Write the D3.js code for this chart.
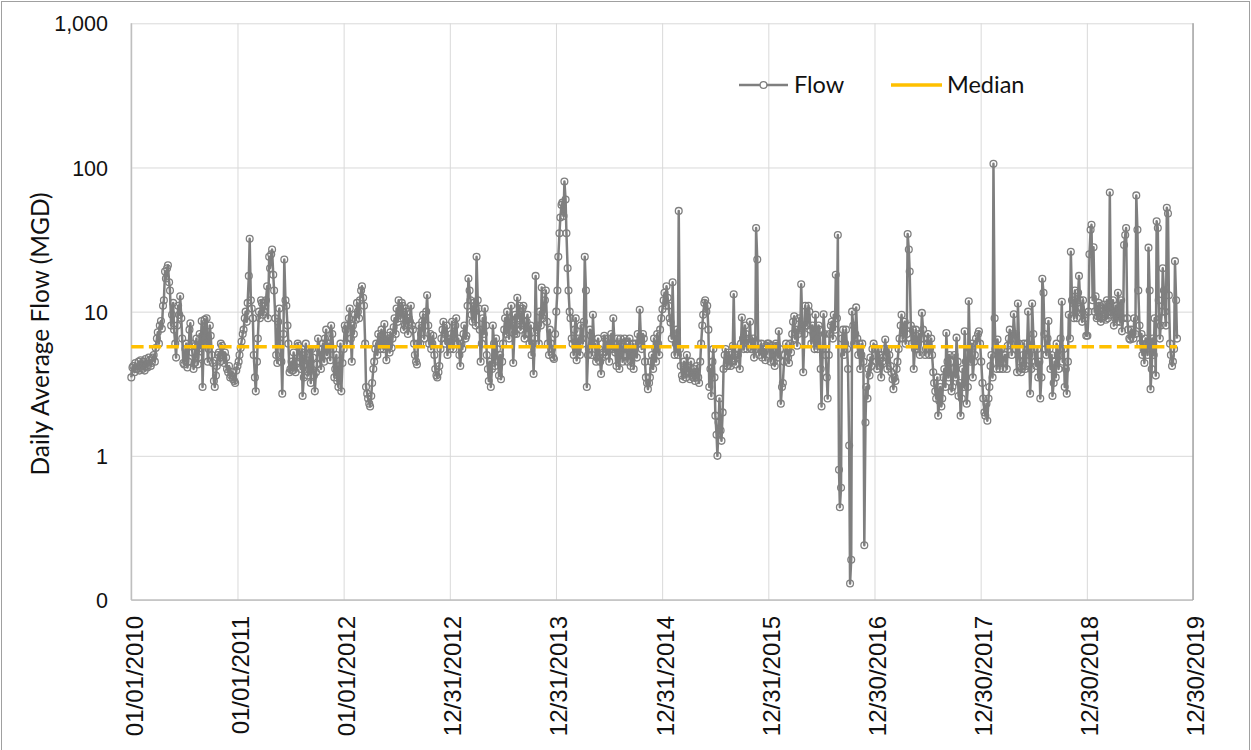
<!DOCTYPE html>
<html>
<head>
<meta charset="utf-8">
<script src="https://cdn.jsdelivr.net/npm/d3@7"></script>
<style>
  body { margin: 0; background: #fff; }
  svg { display: block; font-family: Lato, "Liberation Sans", sans-serif; }
</style>
</head>
<body>
<div id="chart"></div>
<script>
const SVG_WIDTH = 1251;
const SVG_HEIGHT = 750;
const PLOT = { left: 131.3, right: 1193, top: 23.3, bottom: 600 };

const Y_AXIS_LABEL = "Daily Average Flow (MGD)";
const Y_TICKS = [0.1, 1, 10, 100, 1000];
const X_TICK_LABELS = ["01/01/2010", "01/01/2011", "01/01/2012", "12/31/2012", "12/31/2013",
  "12/31/2014", "12/31/2015", "12/30/2016", "12/30/2017", "12/30/2018", "12/30/2019"];
const MEDIAN = 5.7;
const STEP_DAYS = 3.5; // two readings a week, each year starting 1 Jan

// flow readings (MGD)
const flow2010 = [3.5,4.1, 4.2,3.8, 4.4,4.0, 4.0,4.5, 3.9,4.6, 4.3,4.0, 4.5,3.9, 4.7,4.2, 4.1,4.8, 4.6,4.2,
  4.4,4.8, 5.0,4.5, 5.6,6.5, 7.2,6.0, 8.0,8.6, 7.6,11.0, 12.0,19.0, 17.0,20.0, 21.0,16.0, 14.0,8.0,
  9.5,11.5, 7.5,6.0, 4.8,8.0, 11.0,9.5, 12.8,9.0, 6.5,4.4, 4.3,5.5, 6.0,4.1, 4.5,7.5, 8.3,6.0,
  5.2,4.0, 4.4,5.8, 6.5,4.3, 4.8,7.0, 5.6,8.6, 3.0,6.5, 8.8,6.0, 9.0,4.5, 5.5,8.0, 6.8,5.0,
  4.4,3.3, 3.0,3.6, 4.2,5.0, 5.2,4.5, 6.0,5.8, 5.0,4.4, 5.2,4.8, 4.0,3.8, 4.2,3.5, 3.6,3.8,
  3.4,3.3, 3.2,3.9];
const flow2011 = [4.2,4.5, 5.0,5.6, 6.2,7.0, 7.5,9.0, 10.0,8.5, 11.5,17.7, 32.0,12.0, 10.5,9.0, 5.0,3.5, 2.8,4.5,
  6.5,10.0, 9.0,12.0, 11.5,9.5, 10.0,11.0, 12.0,15.0, 9.0,24.0, 20.0,25.0, 27.0,18.0, 14.0,9.0, 5.0,4.4,
  8.5,10.5, 6.0,4.5, 2.7,7.0, 23.0,12.0, 11.0,8.0, 6.0,3.8, 4.0,4.5, 3.9,5.2, 4.2,3.8, 4.5,6.0,
  5.8,4.8, 4.0,5.5, 2.6,3.5, 5.2,6.0, 4.6,3.6, 4.0,5.5, 3.2,5.5, 4.8,3.6, 2.8,3.8, 4.3,6.5,
  5.5,4.8, 4.0,5.5, 6.0,4.5, 6.5,7.5, 5.0,6.0, 6.0,4.6, 8.0,7.0, 5.5,3.5, 4.0,5.0, 3.3,3.0,
  4.2,6.0, 2.8,4.4];
const flow2012 = [5.5,8.0, 7.5,6.0, 8.0,9.0, 10.5,6.5, 4.5,8.0, 7.0,9.5, 8.8,11.5, 10.0,9.0, 12.0,14.0, 15.0,12.5,
  11.0,6.0, 3.0,2.7, 2.5,2.3, 2.2,2.6, 3.2,4.0, 4.5,5.5, 6.0,5.0, 7.0,6.0, 5.5,7.5, 6.8,5.5,
  8.2,5.8, 4.6,6.8, 6.0,5.2, 7.2,5.6, 6.5,7.8, 9.0,7.0, 10.5,8.5, 12.0,10.0, 9.0,11.5, 11.0,7.5,
  8.0,10.5, 10.0,7.0, 9.0,8.5, 11.0,8.0, 7.5,6.0, 5.0,4.5, 4.3,6.0, 8.0,6.0, 7.0,8.5, 9.5,6.5,
  8.0,10.0, 13.0,8.0, 6.0,7.0, 5.5,6.0, 6.8,5.0, 4.0,3.6, 3.5,3.8, 4.2,5.5, 6.5,7.5, 8.5,7.0,
  6.0,8.0, 5.0,6.5];
const flow2013 = [5.5,7.0, 8.5,5.5, 6.0,8.0, 9.0,6.0, 6.5,5.0, 4.2,6.0, 5.5,7.0, 8.0,6.5, 6.8,11.0, 17.0,14.0,
  12.0,9.5, 8.5,11.5, 10.0,8.0, 24.0,12.0, 10.5,7.5, 4.5,6.0, 9.0,7.0, 10.5,8.0, 5.0,4.0, 3.3,4.5,
  3.0,4.0, 8.0,6.0, 4.2,6.5, 5.5,4.5, 3.6,5.0, 3.4,4.5, 6.0,7.5, 9.0,7.0, 10.0,8.0, 6.5,9.0,
  11.0,8.0, 4.4,7.0, 9.5,7.0, 12.5,9.0, 11.0,7.5, 8.0,10.5, 11.0,6.5, 7.0,8.5, 9.5,7.0, 6.0,8.0,
  5.0,6.0, 3.7,6.5, 17.7,7.5, 8.0,6.0, 10.0,8.0, 14.7,9.0, 9.5,12.0, 14.0,8.5, 6.0,5.0, 7.5,6.0,
  5.5,4.8, 4.7,7.0];
const flow2014 = [10.0,14.0, 24.0,35.0, 45.0,55.0, 57.0,46.0, 80.0,60.0, 35.0,20.0, 14.0,10.0, 9.0,6.5, 6.0,5.0, 7.5,9.0,
  4.6,5.5, 6.5,5.0, 8.0,6.5, 6.0,8.5, 24.0,14.0, 3.0,5.0, 5.5,7.5, 6.8,5.0, 9.5,6.0, 6.0,4.5,
  4.8,6.5, 5.5,4.5, 3.7,4.8, 5.2,6.8, 6.5,5.0, 5.5,6.5, 4.5,5.5, 7.0,5.5, 9.0,6.0, 5.2,4.2,
  6.5,5.5, 4.0,6.5, 6.0,4.5, 5.0,6.5, 6.2,5.0, 4.5,5.5, 6.5,4.2, 5.0,6.0, 4.0,5.5, 6.0,4.8,
  7.0,6.0, 10.3,6.5, 5.5,7.0, 6.5,4.5, 3.5,3.2, 2.9,3.2, 3.5,4.5, 5.0,4.0, 6.5,5.5, 4.5,7.0,
  6.0,5.0, 7.5,9.0];
const flow2015 = [10.4,12.0, 13.5,11.0, 15.0,12.5, 11.0,9.0, 8.4,6.5, 16.0,7.0, 5.0,6.0, 7.5,5.0, 50.0,5.5, 4.2,3.6,
  3.4,4.5, 4.0,3.5, 5.0,4.2, 3.8,3.4, 4.5,3.6, 3.5,4.0, 3.3,3.8, 4.2,3.5, 3.2,4.5, 6.0,8.0,
  9.5,11.5, 12.0,10.0, 11.0,7.5, 3.0,4.0, 2.6,4.5, 5.5,3.5, 1.9,1.4, 1.0,1.7, 2.5,1.5, 1.27,2.0,
  4.0,5.0, 5.5,4.2, 4.2,5.2, 5.0,4.2, 4.5,5.8, 13.2,5.0, 4.3,4.8, 5.0,5.5, 4.0,6.0, 9.1,6.5,
  5.5,8.0, 7.0,5.5, 6.0,6.5, 8.5,5.5, 5.5,6.5, 4.8,5.5, 38.0,23.0, 6.0,5.0, 5.5,6.0, 4.8,5.5,
  5.2,4.6, 5.8,6.0];
const flow2016 = [6.0,5.0, 4.5,5.8, 5.5,4.5, 4.2,6.0, 5.8,4.8, 7.3,5.5, 2.3,3.0, 3.2,4.5, 5.0,6.0, 5.5,4.8,
  4.4,6.0, 5.2,7.0, 8.5,9.3, 6.5,7.5, 5.8,7.0, 9.0,7.5, 15.5,8.0, 3.8,7.0, 11.0,8.0, 8.0,11.0,
  10.0,7.5, 6.0,8.0, 7.0,5.5, 9.5,6.5, 5.5,8.0, 7.5,4.0, 2.2,5.5, 9.6,7.0, 5.0,3.5, 2.5,5.0,
  7.0,8.0, 8.5,6.5, 9.5,7.5, 18.0,9.0, 34.0,0.8, 0.44,0.6, 6.5,7.5, 5.0,6.0, 7.5,5.5, 4.0,1.18,
  0.13,0.19, 10.0,8.0, 6.0,7.0, 10.7,6.5, 5.0,6.0, 4.0,5.0, 6.0,4.5, 0.24,1.7, 3.0,2.5, 4.0,3.6,
  4.8,4.2, 5.5,6.0];
const flow2017 = [5.6,4.5, 4.0,5.5, 5.0,4.2, 3.5,4.5, 4.8,5.5, 6.4,5.0, 4.0,5.5, 5.0,4.2, 3.8,3.4, 2.9,3.5,
  3.3,4.0, 4.5,5.5, 6.5,8.0, 9.5,6.5, 7.5,8.5, 6.0,7.0, 34.5,27.0, 19.0,8.0, 6.0,7.5, 4.0,5.5,
  7.5,5.5, 6.0,7.0, 5.0,6.5, 9.8,7.5, 6.5,5.0, 5.5,6.0, 7.0,5.0, 5.5,6.5, 5.0,3.8, 3.2,2.8,
  2.5,3.5, 1.9,2.4, 3.0,2.2, 2.5,3.5, 4.0,3.0, 7.1,4.5, 3.5,5.0, 4.5,2.8, 3.0,4.0, 5.0,3.5,
  6.6,4.5, 2.6,3.2, 1.9,2.5, 4.0,3.0, 7.3,4.5, 2.3,3.0, 11.8,5.5, 4.5,6.0, 3.5,4.5, 5.0,6.5,
  6.0,7.0, 7.3,6.0];
const flow2018 = [4.5,3.2, 2.5,2.0, 1.9,2.3, 1.75,2.5, 3.0,4.2, 5.0,3.5, 106.0,9.0, 5.5,4.0, 6.4,4.8, 4.0,5.5,
  5.5,4.0, 4.5,5.0, 5.0,4.0, 5.8,6.5, 7.5,6.0, 5.0,7.0, 9.6,7.0, 5.5,3.8, 11.4,6.0, 4.5,3.8,
  4.0,5.0, 6.0,4.0, 4.2,6.0, 10.0,5.0, 2.7,4.0, 11.4,7.0, 5.5,4.5, 4.2,5.5, 3.5,4.5, 2.5,3.5,
  16.9,13.5, 7.0,5.5, 5.0,6.5, 8.6,5.5, 4.0,5.0, 2.6,3.2, 4.5,3.5, 6.0,5.0, 4.0,5.5, 6.5,11.7,
  4.5,5.5, 3.0,4.0, 2.7,4.5, 9.5,6.5, 26.0,12.0, 11.5,9.0, 14.0,10.0, 9.0,13.5, 17.7,12.0, 10.5,8.5,
  12.0,9.5, 9.0,6.8];
const flow2019 = [6.8,10.0, 25.0,37.0, 40.0,12.0, 28.0,10.0, 12.8,9.0, 9.3,11.5, 11.0,8.5, 9.0,10.5, 11.2,9.5, 8.8,12.0,
  9.0,11.0, 67.0,9.5, 10.0,12.0, 8.0,9.0, 11.0,8.5, 13.5,10.0, 8.5,12.0, 7.3,9.0, 29.0,34.0, 38.0,9.0,
  7.5,6.5, 6.4,7.5, 7.0,6.5, 9.0,7.0, 64.0,37.0, 14.0,8.0, 6.0,7.0, 5.0,5.5, 4.4,6.5, 6.0,5.0,
  27.8,14.0, 2.9,4.0, 6.5,5.0, 9.0,3.6, 42.4,38.0, 12.0,6.5, 8.0,10.0, 20.0,14.0, 10.0,8.0, 52.6,48.0,
  13.0,6.0, 5.0,4.2, 4.5,5.5, 22.4,12.0, 6.5];

const YEARS = [2010, 2011, 2012, 2013, 2014, 2015, 2016, 2017, 2018, 2019];
const FLOW_BY_YEAR = [flow2010, flow2011, flow2012, flow2013, flow2014, flow2015, flow2016, flow2017, flow2018, flow2019];

const parseDate = d3.timeParse("%m/%d/%Y");
const flowData = [];
YEARS.forEach((year, k) => {
    FLOW_BY_YEAR[k].forEach((v, i) => {
        flowData.push({ date: d3.timeDay.offset(new Date(year, 0, 1), Math.round(STEP_DAYS * i)), value: v });
    });
});

const xTicks = X_TICK_LABELS.map(parseDate);

const svg = d3.select("#chart")
    .append("svg")
    .attr("width", SVG_WIDTH)
    .attr("height", SVG_HEIGHT);

svg.append("rect")
    .attr("x", 1.5).attr("y", 1.5)
    .attr("width", SVG_WIDTH - 3).attr("height", SVG_HEIGHT + 10)
    .attr("fill", "#fff")
    .attr("stroke", "#a0a0a0");

const xScale = d3.scaleTime()
    .domain([xTicks[0], xTicks[xTicks.length - 1]])
    .range([PLOT.left, PLOT.right]);

const yScale = d3.scaleLog()
    .domain([Y_TICKS[0], Y_TICKS[Y_TICKS.length - 1]])
    .range([PLOT.bottom, PLOT.top]);

// gridlines + y labels
const yAxis = d3.axisLeft(yScale)
    .tickValues(Y_TICKS)
    .tickSize(-(PLOT.right - PLOT.left))
    .tickFormat(d3.format(",.0f"));

svg.append("g")
    .attr("class", "y-axis")
    .attr("transform", `translate(${PLOT.left},0)`)
    .call(yAxis)
    .call(g => g.select(".domain").remove())
    .call(g => g.selectAll("line").attr("stroke", "#d9d9d9").attr("stroke-width", 1))
    .call(g => g.selectAll("text")
        .attr("x", -(PLOT.left - 108))
        .attr("dy", "0.35em")
        .attr("fill", "#111")
        .style("font-size", "21.5px"));

const xAxis = d3.axisBottom(xScale)
    .tickValues(xTicks)
    .tickSize(-(PLOT.bottom - PLOT.top))
    .tickFormat(d3.timeFormat("%m/%d/%Y"));

svg.append("g")
    .attr("class", "x-axis")
    .attr("transform", `translate(0,${PLOT.bottom})`)
    .call(xAxis)
    .call(g => g.select(".domain").remove())
    .call(g => g.selectAll("line").attr("stroke", "#d9d9d9").attr("stroke-width", 1))
    .call(g => g.selectAll("text")
        .attr("transform", "rotate(-90)")
        .attr("text-anchor", "end")
        .attr("x", -16)
        .attr("y", 2.5)
        .attr("dy", "0.35em")
        .attr("fill", "#111")
        .style("font-size", "24px"));

// axis lines
svg.append("line")
    .attr("x1", PLOT.left).attr("x2", PLOT.left)
    .attr("y1", PLOT.top).attr("y2", PLOT.bottom)
    .attr("stroke", "#bfbfbf").attr("stroke-width", 1.5);
svg.append("line")
    .attr("x1", PLOT.left).attr("x2", PLOT.right)
    .attr("y1", PLOT.bottom).attr("y2", PLOT.bottom)
    .attr("stroke", "#bfbfbf").attr("stroke-width", 1.5);
svg.append("line")
    .attr("x1", PLOT.right).attr("x2", PLOT.right)
    .attr("y1", PLOT.top).attr("y2", PLOT.bottom)
    .attr("stroke", "#a6a6a6").attr("stroke-width", 1.5);

svg.append("text")
    .attr("transform", "translate(40,334) rotate(-90)")
    .attr("text-anchor", "middle")
    .attr("dy", "0.35em")
    .attr("fill", "#111")
    .style("font-size", "24.5px")
    .text(Y_AXIS_LABEL);

// flow series
const line = d3.line()
    .x(d => xScale(d.date))
    .y(d => yScale(d.value));

svg.append("path")
    .datum(flowData)
    .attr("fill", "none")
    .attr("stroke", "#7f7f7f")
    .attr("stroke-width", 2.5)
    .attr("stroke-linejoin", "round")
    .attr("d", line);

svg.append("g")
    .selectAll("circle")
    .data(flowData)
    .join("circle")
    .attr("cx", d => xScale(d.date))
    .attr("cy", d => yScale(d.value))
    .attr("r", 3.4)
    .attr("fill", "none")
    .attr("stroke", "#7f7f7f")
    .attr("stroke-width", 1.3);

// median
const firstDate = flowData[0].date;
const lastDate = flowData[flowData.length - 1].date;
svg.append("line")
    .attr("x1", xScale(firstDate)).attr("x2", xScale(lastDate))
    .attr("y1", yScale(MEDIAN)).attr("y2", yScale(MEDIAN))
    .attr("stroke", "#FFC000")
    .attr("stroke-width", 3.5)
    .attr("stroke-dasharray", "12.3,5.3");

// legend
const legend = svg.append("g").attr("class", "legend");
legend.append("line")
    .attr("x1", 739).attr("x2", 788).attr("y1", 85).attr("y2", 85)
    .attr("stroke", "#7f7f7f").attr("stroke-width", 2.5);
legend.append("circle")
    .attr("cx", 763.5).attr("cy", 85).attr("r", 3.4)
    .attr("fill", "#fff").attr("stroke", "#7f7f7f").attr("stroke-width", 1.3);
legend.append("text")
    .attr("x", 794).attr("y", 85).attr("dy", "0.35em")
    .attr("fill", "#111").style("font-size", "23.5px")
    .text("Flow");
legend.append("line")
    .attr("x1", 891).attr("x2", 942).attr("y1", 85).attr("y2", 85)
    .attr("stroke", "#FFC000").attr("stroke-width", 3.5);
legend.append("text")
    .attr("x", 947).attr("y", 85).attr("dy", "0.35em")
    .attr("fill", "#111").style("font-size", "23.5px")
    .text("Median");
</script>
</body>
</html>
